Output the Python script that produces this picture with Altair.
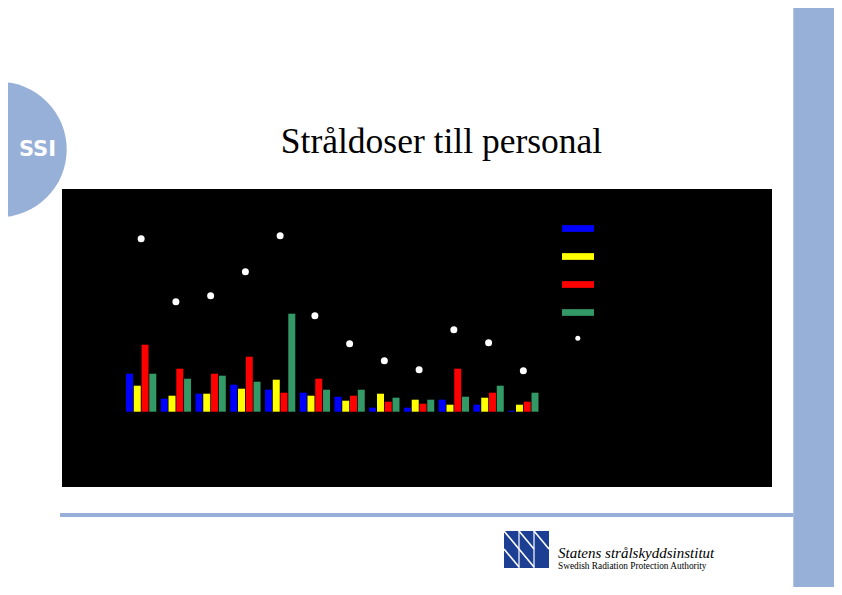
import altair as alt
import pandas as pd

# ---- data ----
groups = ["B1", "B2", "F1", "F2", "F3", "O1", "O2", "O3", "R1", "R2", "R3", "R4"]
series = ["1999", "2000", "2001", "2002"]
colors = ["#0000ff", "#ffff00", "#ff0000", "#339966"]
blue_vals = [3.8, 1.3, 1.8, 2.7, 2.2, 1.9, 1.5, 0.4, 0.4, 1.2, 0.7, 0.1]
yellow_vals = [2.6, 1.6, 1.8, 2.3, 3.2, 1.6, 1.1, 1.8, 1.2, 0.7, 1.4, 0.7]
red_vals = [6.7, 4.3, 3.8, 5.5, 1.9, 3.3, 1.6, 1.0, 0.8, 4.3, 1.9, 1.0]
green_vals = [3.8, 3.3, 3.6, 3.0, 9.8, 2.2, 2.2, 1.4, 1.2, 1.5, 2.6, 1.9]
dot_vals = [17.3, 11.0, 11.6, 14.0, 17.6, 9.6, 6.8, 5.1, 4.2, 8.2, 6.9, 4.1]
dot_label = "Medelvärde 1990-1998"

title_text = "Stråldoser till personal"
logo_name = "Statens strålskyddsinstitut"
logo_sub = "Swedish Radiation Protection Authority"

rows = []
for s, vals in zip(series, [blue_vals, yellow_vals, red_vals, green_vals]):
    for g, v in zip(groups, vals):
        rows.append({"grupp": g, "serie": s, "värde": v})
bars_df = pd.DataFrame(rows)
dots_df = pd.DataFrame({"grupp": groups, "värde": dot_vals, "typ": [dot_label] * len(groups)})

W, H = 826, 579
band = "#97b0d8"

xscale = alt.Scale(domain=groups, range=[118, 530.5], paddingInner=0.128, paddingOuter=0)
yscale = alt.Scale(domain=[0, 20], range=[403.7, 203.7], nice=False, zero=True)

one = pd.DataFrame({"a": [0]})
base = alt.Chart(one)

right_band = base.mark_rect(color=band).encode(
    x=alt.value(785.3), x2=alt.value(W), y=alt.value(0), y2=alt.value(H))
hline = base.mark_rect(color=band).encode(
    x=alt.value(52), x2=alt.value(785.3), y=alt.value(505), y2=alt.value(509))
circle = base.mark_point(filled=True, color=band, opacity=1, size=18330).encode(
    x=alt.value(-9), y=alt.value(141.5))
ssi = base.mark_text(text="SSI", color="white", font="DejaVu Sans", fontWeight="bold",
                     fontSize=21, align="center", baseline="middle").encode(
    x=alt.value(29.5), y=alt.value(141.5))
title = base.mark_text(text=title_text, color="black", font="Liberation Serif",
                       fontSize=35.5, align="center", baseline="alphabetic").encode(
    x=alt.value(433.5), y=alt.value(145))
black = base.mark_rect(color="black").encode(
    x=alt.value(54), x2=alt.value(764), y=alt.value(181), y2=alt.value(479))

# logo
logo_sq = base.mark_rect(color="#1c3f94").encode(
    x=alt.value(496), x2=alt.value(541), y=alt.value(523), y2=alt.value(560))
logo_lines = []
for i, x0 in enumerate([496, 511, 526]):
    logo_lines.append(base.mark_rule(color="white", strokeWidth=1.6).encode(
        x=alt.value(x0), x2=alt.value(x0 + 15), y=alt.value(523), y2=alt.value(541)))
    if i < 2:
        logo_lines.append(base.mark_rule(color="white", strokeWidth=1.6).encode(
            x=alt.value(x0), x2=alt.value(x0 + 15), y=alt.value(541), y2=alt.value(559)))
for x0 in [511, 526]:
    logo_lines.append(base.mark_rule(color="white", strokeWidth=1.2).encode(
        x=alt.value(x0), x2=alt.value(x0), y=alt.value(523), y2=alt.value(560)))
logo_t1 = base.mark_text(text=logo_name, color="black", font="Liberation Serif",
                         fontStyle="italic", fontSize=15, align="left").encode(
    x=alt.value(550), y=alt.value(544.8))
logo_t2 = base.mark_text(text=logo_sub, color="black", font="Liberation Serif",
                         fontSize=9.3, align="left").encode(
    x=alt.value(550), y=alt.value(557.6))

bars = alt.Chart(bars_df).mark_bar().encode(
    x=alt.X("grupp:N", scale=xscale, axis=None),
    xOffset=alt.XOffset("serie:N", scale=alt.Scale(domain=series, paddingInner=0.1, paddingOuter=0)),
    y=alt.Y("värde:Q", scale=yscale, axis=None),
    color=alt.Color("serie:N", scale=alt.Scale(domain=series, range=colors),
                    legend=alt.Legend(orient="none", legendX=554, legendY=204.5, title=None,
                                      symbolType="M-1,-0.21H1V0.21H-1Z", symbolSize=1024,
                                      symbolStrokeWidth=0, labelColor="black", labelFontSize=13,
                                      rowPadding=5, padding=0)),
)

dots = alt.Chart(dots_df).mark_point(filled=True, color="white", opacity=1, size=49).encode(
    x=alt.X("grupp:N", scale=xscale, axis=None),
    y=alt.Y("värde:Q", scale=yscale, axis=None),
    shape=alt.Shape("typ:N", scale=alt.Scale(range=["circle"]),
                    legend=alt.Legend(orient="none", legendX=563.3, legendY=323.8, title=None,
                                      symbolSize=25, symbolFillColor="white",
                                      symbolStrokeColor="white", symbolStrokeWidth=0,
                                      labelColor="black", labelFontSize=13, padding=0)),
)

xlabels = alt.Chart(pd.DataFrame({"grupp": groups})).mark_text(
    color="black", fontSize=11, baseline="middle").encode(
    x=alt.X("grupp:N", scale=xscale, axis=None),
    y=alt.value(428),
    text="grupp:N",
)

chart = alt.layer(
    right_band, hline, circle, ssi, title, black,
    logo_sq, *logo_lines, logo_t1, logo_t2,
    bars, dots, xlabels,
).properties(
    width=W, height=H, padding=0, background="white",
    autosize=alt.AutoSizeParams(type="none"),
).configure_view(stroke=None).resolve_legend(color="independent", shape="independent")

chart.save("out.html", embed_options={"renderer": "svg", "actions": False})
